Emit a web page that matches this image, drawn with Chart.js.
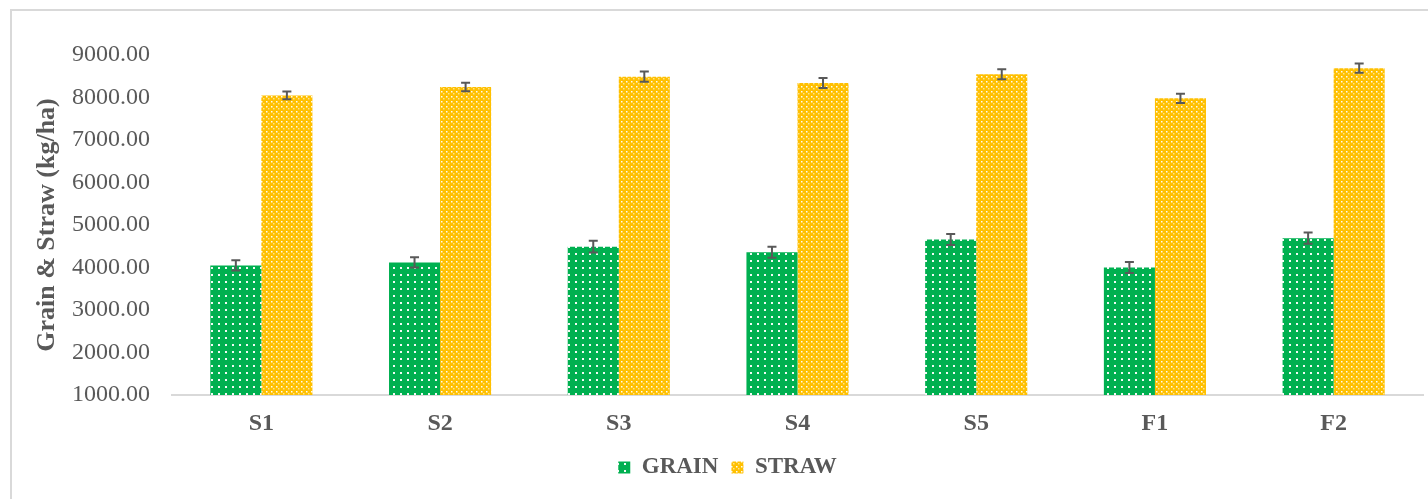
<!DOCTYPE html>
<html>
<head>
<meta charset="utf-8">
<script src="https://cdn.jsdelivr.net/npm/chart.js@4"></script>
<style>
  html, body { margin: 0; padding: 0; background: #fff; }
  #wrap { position: relative; width: 1428px; height: 499px; }
  #frame { position: absolute; left: 10px; top: 9px; right: -10px; bottom: -10px;
           border-left: 2px solid #d9d9d9; border-top: 2px solid #d9d9d9; pointer-events: none; }
  canvas { position: absolute; left: 0; top: 0; }
</style>
</head>
<body>
<div id="wrap">
  <canvas id="c" width="1428" height="499"></canvas>
  <div id="frame"></div>
</div>
<script>
const categories = ['S1', 'S2', 'S3', 'S4', 'S5', 'F1', 'F2'];
const grain = [4050, 4120, 4490, 4360, 4660, 4000, 4690];
const straw = [8050, 8245, 8490, 8340, 8545, 7980, 8690];
const grainErr = [118, 122, 137, 130, 130, 130, 133];
const strawErr = [94, 100, 122, 118, 118, 110, 110];
const yTicks = [1000, 2000, 3000, 4000, 5000, 6000, 7000, 8000, 9000];

function makePattern(base, spacing, dotSize, alt) {
  const t = document.createElement('canvas');
  t.width = spacing; t.height = spacing;
  const g = t.getContext('2d');
  g.fillStyle = base; g.fillRect(0, 0, spacing, spacing);
  g.fillStyle = 'rgba(255,255,255,0.95)';
  g.fillRect(1, 1, dotSize, dotSize);
  if (alt) {
    g.fillStyle = 'rgba(255,255,255,0.55)';
    const h = Math.floor(spacing / 2);
    g.fillRect(1 + h, 1 + h, dotSize, dotSize);
  }
  return g.createPattern(t, 'repeat');
}
const ctx0 = document.getElementById('c').getContext('2d');
const greenPat = makePattern('#00B050', 7, 2, false);
const yellowPat = makePattern('#FFC000', 5, 1.5, true);

const errorBars = {
  id: 'errorBars',
  afterDatasetsDraw(chart) {
    const ctx = chart.ctx;
    const y = chart.scales.y;
    const errs = [grainErr, strawErr];
    ctx.save();
    ctx.strokeStyle = '#595959';
    ctx.lineWidth = 2;
    chart.data.datasets.forEach((ds, di) => {
      const meta = chart.getDatasetMeta(di);
      meta.data.forEach((bar, i) => {
        const v = ds.data[i], e = errs[di][i];
        const x = bar.x;
        const yt = y.getPixelForValue(v + e), yb = y.getPixelForValue(v - e);
        ctx.beginPath();
        ctx.moveTo(x, yt); ctx.lineTo(x, yb);
        ctx.moveTo(x - 4.5, yt); ctx.lineTo(x + 4.5, yt);
        ctx.moveTo(x - 4.5, yb); ctx.lineTo(x + 4.5, yb);
        ctx.stroke();
      });
    });
    ctx.restore();
  }
};

new Chart(ctx0, {
  type: 'bar',
  data: {
    labels: categories,
    datasets: [
      { label: 'GRAIN', data: grain, backgroundColor: greenPat, borderWidth: 0 },
      { label: 'STRAW', data: straw, backgroundColor: yellowPat, borderWidth: 0 }
    ]
  },
  options: {
    responsive: false,
    animation: false,
    devicePixelRatio: 1,
    layout: { padding: { left: 32, right: 5, top: 55, bottom: 10 } },
    datasets: { bar: { categoryPercentage: 0.5714, barPercentage: 1.0 } },
    scales: {
      x: {
        afterFit(scale) { scale.height = 48; },
        grid: { display: false, drawTicks: false },
        border: { display: true, color: '#d9d9d9', width: 2 },
        ticks: { color: '#595959', padding: 14, font: { family: 'Liberation Serif', size: 24, weight: 'bold' } }
      },
      y: {
        min: 1000, max: 9000,
        afterBuildTicks(scale) { scale.ticks = yTicks.map(v => ({ value: v })); },
        afterFit(scale) { scale.width = 140; },
        grid: { display: false, drawTicks: false },
        border: { display: false },
        ticks: {
          color: '#595959', padding: 22,
          font: { family: 'Liberation Serif', size: 24 },
          callback: v => Number(v).toFixed(2)
        },
        title: {
          display: true, text: 'Grain & Straw (kg/ha)', color: '#595959',
          font: { family: 'Liberation Serif', size: 26, weight: 'bold' },
          padding: { top: 0, bottom: 10 }
        }
      }
    },
    plugins: {
      legend: {
        position: 'bottom',
        labels: {
          color: '#595959', boxWidth: 12, boxHeight: 12, padding: 13,
          font: { family: 'Liberation Serif', size: 23, weight: 'bold' }
        }
      },
      tooltip: { enabled: false }
    }
  },
  plugins: [errorBars]
});
</script>
</body>
</html>
